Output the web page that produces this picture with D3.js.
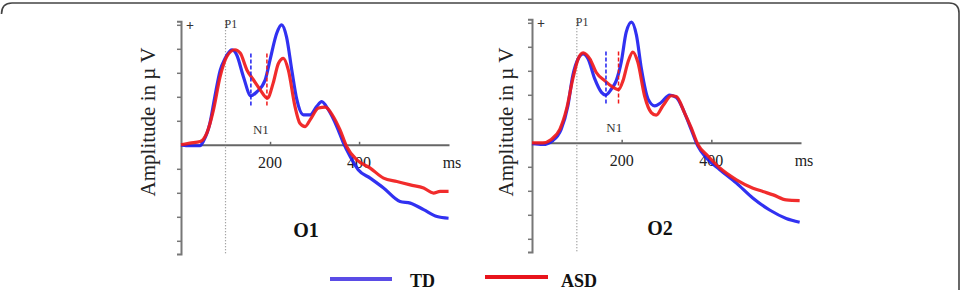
<!DOCTYPE html>
<meta charset="utf-8">
<head>
<script src="https://d3js.org/d3.v7.min.js"></script>
<style>
  body { margin: 0; background: #fff; }
  svg text { font-family: "Liberation Serif", "Times New Roman", serif; }
</style>
</head>
<body>
<div id="chart"></div>
<script>
// ERP traces, [time in ms, amplitude in µV]
const o1TD = [[0,0],[20,-0.04],[43,-0.04],[50,0.14],[65,0.9],[76,2.0],[88,3.1],[99,3.6],[114,3.96],[125,3.75],[140,2.85],[157,2.04],[170,2.2],[189,2.7],[200,3.54],[215,4.65],[226,5.0],[237,4.5],[249,3.1],[260,1.9],[275,1.25],[290,1.25],[305,1.6],[316,1.8],[331,1.46],[350,0.76],[365,0.07],[380,-0.49],[398,-1.04],[425,-1.39],[455,-1.8],[492,-2.36],[515,-2.43],[545,-2.7],[575,-2.99],[601,-3.06]];
const o1ASD = [[0,0],[20,0.07],[43,0.14],[58,0.49],[73,1.46],[88,2.85],[103,3.68],[121,3.96],[133,3.82],[148,3.12],[163,2.7],[178,2.29],[194,1.94],[207,2.57],[219,3.4],[230,3.6],[241,3.12],[256,1.6],[267,0.9],[279,0.76],[290,1.04],[309,1.53],[324,1.57],[342,1.18],[357,0.63],[372,-0.07],[395,-0.63],[425,-0.97],[455,-1.39],[485,-1.53],[515,-1.67],[545,-1.8],[567,-2.01],[582,-1.94],[601,-1.94]];
const o2TD = [[0,-0.04],[24,-0.07],[47,0.1],[65,0.56],[80,1.54],[91,2.8],[103,3.5],[114,3.7],[125,3.5],[140,2.66],[155,2.1],[164,1.99],[177,2.24],[188,2.59],[199,3.36],[210,4.6],[222,5.03],[233,4.48],[244,3.08],[259,1.82],[274,1.54],[288,1.68],[307,1.99],[322,1.89],[340,1.26],[355,0.56],[370,-0.14],[389,-0.63],[419,-1.12],[456,-1.68],[493,-2.31],[530,-2.8],[567,-3.15],[597,-3.31]];
const o2ASD = [[0,0],[24,0],[43,0.14],[62,0.56],[77,1.4],[91,2.66],[103,3.5],[114,3.75],[129,3.5],[143,2.94],[162,2.59],[181,2.31],[193,2.21],[203,2.59],[214,3.36],[225,3.78],[236,3.36],[251,1.96],[266,1.26],[277,1.15],[292,1.54],[311,1.96],[322,1.93],[340,1.26],[355,0.63],[370,-0.07],[393,-0.56],[419,-1.05],[456,-1.54],[493,-1.89],[515,-2.03],[538,-2.17],[567,-2.38],[597,-2.41]];

const channels = ["O1", "O2"];
const xTickLabels = [200, 400];
const yTicks = [-4, -3, -2, -1, 1, 2, 3, 4, 5];
const p1Ms = 100;
const n1Ms = {O1: {TD: 157, ASD: 193}, O2: {TD: 165, ASD: 193}};
const groups = ["TD", "ASD"];

const colors = {TD: "#1f1ff0", ASD: "#f01a1a"};
const legendColors = {TD: "#5a4ce6", ASD: "#e8141c"};

const panels = [
  {name: "O1", series: {TD: o1TD, ASD: o1ASD}, x0: 181, x1: 449, xMax: 602, dy: 0, labelX: 148, nameX: 306},
  {name: "O2", series: {TD: o2TD, ASD: o2ASD}, x0: 532, x1: 801, xMax: 600, dy: -2, labelX: 506, nameX: 660}
];

const W = 961, H = 290;
const svg = d3.select("#chart").append("svg")
  .attr("width", W).attr("height", H);

// rounded frame (bottom runs off the picture)
svg.append("path")
  .attr("d", "M1.5,14 Q1.5,3 12,3 H949 Q959,3 959,13 V292")
  .attr("fill", "none").attr("stroke", "#444").attr("stroke-width", 1.6);

panels.forEach(p => {
  const x = d3.scaleLinear().domain([0, p.xMax]).range([p.x0, p.x1]);
  const y = d3.scaleLinear().domain([-4.55, 5.15]).range([254 + p.dy, 21.2 + p.dy]);
  const g = svg.append("g");

  // y axis with ticks on the left
  g.append("g")
    .attr("transform", `translate(${p.x0},0)`)
    .call(d3.axisLeft(y).tickValues(yTicks).tickSize(4).tickFormat(""))
    .call(a => a.select(".domain").attr("stroke", "#777").attr("stroke-width", 2))
    .call(a => a.selectAll(".tick line").attr("stroke", "#777").attr("stroke-width", 1.5));

  // zero line with small ticks
  g.append("g")
    .attr("transform", `translate(0,${y(0)})`)
    .call(d3.axisTop(x).tickValues(xTickLabels).tickSize(3).tickSizeOuter(0).tickFormat(""))
    .call(a => a.select(".domain").attr("stroke", "#666").attr("stroke-width", 2))
    .call(a => a.selectAll(".tick line").attr("stroke", "#666").attr("stroke-width", 1.5));

  g.selectAll(".xl").data(xTickLabels).join("text")
    .attr("x", d => x(d)).attr("y", y(0) + 23)
    .attr("text-anchor", "middle").attr("font-size", 16).attr("fill", "#222")
    .text(d => d);
  g.append("text").attr("x", x(p.xMax) + 3).attr("y", y(0) + 23)
    .attr("text-anchor", "middle").attr("font-size", 16).attr("fill", "#222").text("ms");

  g.append("text").attr("x", p.x0 + 9).attr("y", y(5) + 5)
    .attr("text-anchor", "middle").attr("font-size", 14).attr("font-weight", "bold").attr("fill", "#333").text("+");

  // P1 latency marker
  g.append("line")
    .attr("x1", x(p1Ms)).attr("x2", x(p1Ms))
    .attr("y1", y(5.15)).attr("y2", y(-4.55))
    .attr("stroke", "#888").attr("stroke-width", 1.2).attr("stroke-dasharray", "1,2");
  g.append("text").attr("x", x(p1Ms) - 1).attr("y", y(5) + 3)
    .attr("font-size", 12).attr("fill", "#333").text("P1");

  // traces
  const line = d3.line().x(d => x(d[0])).y(d => y(d[1])).curve(d3.curveMonotoneX);
  groups.forEach(k => {
    g.append("path").datum(p.series[k])
      .attr("d", line)
      .attr("fill", "none").attr("stroke", colors[k])
      .attr("stroke-width", 3.2).attr("stroke-linejoin", "round").attr("opacity", 0.92);
  });

  // N1 latency markers
  groups.forEach(k => {
    const t = n1Ms[p.name][k];
    g.append("line")
      .attr("x1", x(t)).attr("x2", x(t))
      .attr("y1", y(3.8)).attr("y2", y(1.55))
      .attr("stroke", colors[k]).attr("stroke-width", 1.5).attr("stroke-dasharray", "4,2");
  });
  g.append("text").attr("x", (x(n1Ms[p.name].TD) + x(n1Ms[p.name].ASD)) / 2 + 2).attr("y", y(0.45))
    .attr("text-anchor", "middle").attr("font-size", 13).attr("fill", "#333").text("N1");

  g.append("text").attr("x", p.nameX).attr("y", y(-3.85))
    .attr("text-anchor", "middle").attr("font-size", 20).attr("font-weight", "bold").attr("fill", "#111")
    .text(p.name);

  g.append("text")
    .attr("transform", `translate(${p.labelX + 7},122) rotate(-90)`)
    .attr("text-anchor", "middle").attr("font-size", 21).attr("fill", "#222")
    .text("Amplitude in µ V");
});

// legend
const legend = [
  {k: "TD", x1: 330, x2: 392, y: 279, tx: 410},
  {k: "ASD", x1: 485, x2: 548, y: 277, tx: 561}
];
legend.forEach(l => {
  svg.append("line").attr("x1", l.x1).attr("x2", l.x2).attr("y1", l.y).attr("y2", l.y)
    .attr("stroke", legendColors[l.k]).attr("stroke-width", 4);
  svg.append("text").attr("x", l.tx).attr("y", 287)
    .attr("font-size", 18).attr("font-weight", "bold").attr("fill", "#111").text(l.k);
});
</script>
</body>
